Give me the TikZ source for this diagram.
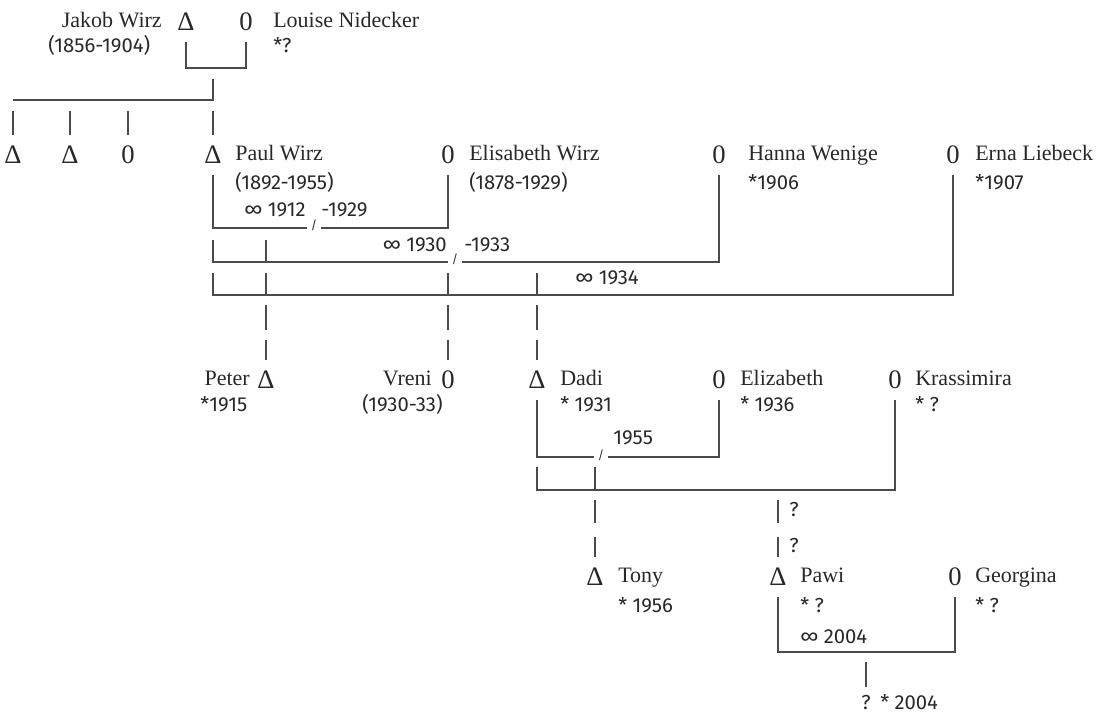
\documentclass[tikz,border=0pt]{standalone}
\usepackage{fontspec}
\setmainfont{Liberation Serif}
\newfontfamily\datefont{Fira Sans}
\usepackage{tikz}
\definecolor{pedink}{RGB}{40,40,40}
\definecolor{pedline}{RGB}{75,75,75}
\tikzset{
  sym/.style={inner sep=0pt,minimum height=30pt,font=\fontsize{20}{22}\selectfont,text=pedink},
  pname/.style={inner sep=0pt,text height=11pt,text depth=3pt,font=\fontsize{16.5}{19}\selectfont,text=pedink},
  pdate/.style={inner sep=0pt,text height=10pt,text depth=3pt,font=\datefont\fontsize{15.2}{17}\selectfont,text=pedink},
  cut/.style={inner sep=0pt,minimum width=10pt,font=\datefont\fontsize{9}{10}\selectfont,text=pedink},
  tie/.style={line width=1pt,draw=pedline},
}

\begin{document}
\begin{tikzpicture}[x=0.75pt,y=-0.75pt]
  \useasboundingbox (0,0) rectangle (1098,715);
  % first generation
  \node[sym] (jakob) at (186,22) {Δ};
  \node[sym] (louise) at (246,22) {0};
  \node[pname,anchor=east] (jakobname) at (162,22) {Jakob Wirz};
  \node[pdate,anchor=west] (jakobdate) at (48,48) {(1856-1904)};
  \node[pname,anchor=west] (louisename) at (273,22) {Louise Nidecker};
  \node[pdate,anchor=west] (louisedate) at (273,48) {*?};
  \draw[tie] (jakob.south) |- (louise |- 0,68) -- (louise.south);

  % siblings
  \node[sym] (sibA) at (13,155) {Δ};
  \node[sym] (sibB) at (70,155) {Δ};
  \node[sym] (sibC) at (128,155) {0};
  \node[sym] (paul) at (213,155) {Δ};
  \draw[tie] (paul |- 0,79) -- (paul |- 0,100) -- (sibA |- 0,100);
  \foreach \s in {sibA,sibB,sibC,paul}
    \draw[tie] (\s.north) -- (\s |- 0,111);

  % Paul and his wives
  \node[sym] (elis) at (448,155) {0};
  \node[sym] (hanna) at (719,155) {0};
  \node[sym] (erna) at (953,155) {0};
  \node[pname,anchor=west] (paulname) at (235,155) {Paul Wirz};
  \node[pdate,anchor=west] (pauldate) at (235,185) {(1892-1955)};
  \node[pname,anchor=west] (elisname) at (469,155) {Elisabeth Wirz};
  \node[pdate,anchor=west] (elisdate) at (469,185) {(1878-1929)};
  \node[pname,anchor=west] (hannaname) at (748,155) {Hanna Wenige};
  \node[pdate,anchor=west] (hannadate) at (748,185) {*1906};
  \node[pname,anchor=west] (ernaname) at (975,155) {Erna Liebeck};
  \node[pdate,anchor=west] (ernadate) at (975,185) {*1907};

  \node[cut] (cutA) at (314,225) {/};
  \node[pdate,anchor=east] (tieA) at (306,212) {∞ 1912};
  \node[pdate,anchor=west] (endA) at (321,212) {-1929};
  \draw[tie] (paul.south) |- (cutA.west |- 0,228);
  \draw[tie] (cutA.east |- 0,228) -| (elis.south);

  \node[cut] (cutB) at (455,259) {/};
  \node[pdate,anchor=east] (tieB) at (447,247) {∞ 1930};
  \node[pdate,anchor=west] (endB) at (464,247) {-1933};
  \draw[tie] (paul |- 0,240) |- (cutB.west |- 0,262);
  \draw[tie] (cutB.east |- 0,262) -| (hanna.south);

  \node[pdate,anchor=west] (tieC) at (575,280) {∞ 1934};
  \draw[tie] (paul |- 0,273) |- (erna |- 0,295) -- (erna.south);

  % second generation
  \node[sym] (peter) at (266,380) {Δ};
  \node[sym] (vreni) at (448,380) {0};
  \node[sym] (dadi) at (537,380) {Δ};
  \node[sym] (eliz) at (719,380) {0};
  \node[sym] (kras) at (895,380) {0};
  \draw[tie] (peter |- 0,240) -- (peter |- 0,262);
  \foreach \k in {peter,vreni,dadi} {
    \draw[tie] (\k |- 0,273) -- (\k |- 0,295);
    \draw[tie] (\k |- 0,305) -- (\k |- 0,330);
    \draw[tie] (\k |- 0,340) -- (\k.north);
  }
  \node[pname,anchor=east] (petername) at (250,380) {Peter};
  \node[pdate,anchor=west] (peterdate) at (200,407) {*1915};
  \node[pname,anchor=east] (vreniname) at (432,380) {Vreni};
  \node[pdate,anchor=west] (drenidate) at (362,407) {(1930-33)};
  \node[pname,anchor=west] (dadiname) at (560,380) {Dadi};
  \node[pdate,anchor=west] (dadidate) at (560,407) {* 1931};
  \node[pname,anchor=west] (elizname) at (740,380) {Elizabeth};
  \node[pdate,anchor=west] (elizdate) at (740,407) {* 1936};
  \node[pname,anchor=west] (krasname) at (915,380) {Krassimira};
  \node[pdate,anchor=west] (krasdate) at (915,407) {* ?};

  \node[cut] (cutD) at (601,455) {/};
  \node[pdate,anchor=west] (tieD) at (613,440) {1955};
  \draw[tie] (dadi.south) |- (cutD.west |- 0,457);
  \draw[tie] (cutD.east |- 0,457) -| (eliz.south);
  \draw[tie] (dadi |- 0,467) |- (kras |- 0,490) -- (kras.south);

  % third generation
  \node[sym] (tony) at (595,577) {Δ};
  \node[sym] (pawi) at (778,577) {Δ};
  \node[sym] (georg) at (955,577) {0};
  \draw[tie] (tony |- 0,467) -- (tony |- 0,490);
  \foreach \k in {tony,pawi} {
    \draw[tie] (\k |- 0,500) -- (\k |- 0,523);
    \draw[tie] (\k |- 0,537) -- (\k.north);
  }
  \node[pdate,anchor=west] (pawiqA) at (789,512) {?};
  \node[pdate,anchor=west] (pawiqB) at (789,548) {?};
  \node[pname,anchor=west] (tonyname) at (618,577) {Tony};
  \node[pdate,anchor=west] (tonydate) at (618,608) {* 1956};
  \node[pname,anchor=west] (pawiname) at (800,577) {Pawi};
  \node[pdate,anchor=west] (pawidate) at (800,608) {* ?};
  \node[pdate,anchor=west] (tieE) at (800,639) {∞ 2004};
  \node[pname,anchor=west] (georgname) at (975,577) {Georgina};
  \node[pdate,anchor=west] (georgdate) at (975,608) {* ?};
  \draw[tie] (pawi.south) |- (georg |- 0,652) -- (georg.south);

  % fourth generation
  \node[pdate] (child) at (866,705) {?};
  \node[pdate,anchor=west] (childdate) at (880,705) {* 2004};
  \draw[tie] (child |- 0,662) -- (child |- 0,687);
\end{tikzpicture}
\end{document}
